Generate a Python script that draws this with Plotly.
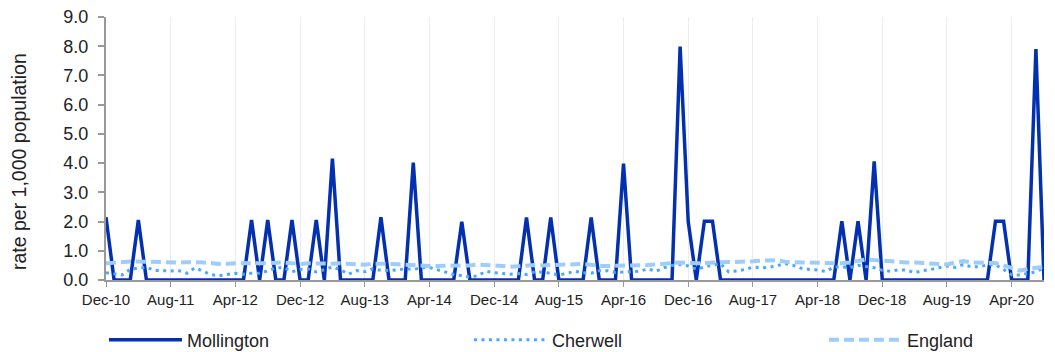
import pandas as pd
import plotly.graph_objects as go

months = pd.date_range("2010-12-01", "2020-08-01", freq="MS").strftime("%b-%y").tolist()

tick_labels = ["Dec-10", "Aug-11", "Apr-12", "Dec-12", "Aug-13", "Apr-14", "Dec-14", "Aug-15",
               "Apr-16", "Dec-16", "Aug-17", "Apr-18", "Dec-18", "Aug-19", "Apr-20"]

mollington = [
    2.15, 0, 0, 0, 2.05, 0, 0, 0, 0, 0, 0, 0, 0, 0, 0, 0, 0, 0, 2.05, 0,
    2.05, 0, 0, 2.05, 0, 0, 2.05, 0, 4.15, 0, 0, 0, 0, 0, 2.15, 0, 0, 0, 4.02, 0,
    0, 0, 0, 0, 1.99, 0, 0, 0, 0, 0, 0, 0, 2.14, 0, 0, 2.14, 0, 0, 0, 0,
    2.14, 0, 0, 0, 3.98, 0, 0, 0, 0, 0, 0, 7.99, 2.0, 0, 2.01, 2.01, 0, 0, 0, 0,
    0, 0, 0, 0, 0, 0, 0, 0, 0, 0, 0, 2.01, 0, 2.01, 0, 4.06, 0, 0, 0, 0,
    0, 0, 0, 0, 0, 0, 0, 0, 0, 0, 2.01, 2.01, 0, 0, 0, 7.9, 0,
]

cherwell = [
    0.25, 0.20, 0.17, 0.37, 0.40, 0.44, 0.33, 0.31, 0.31, 0.32, 0.23, 0.42, 0.30, 0.18, 0.15, 0.20, 0.23, 0.20, 0.23, 0.23,
    0.31, 0.42, 0.42, 0.28, 0.36, 0.38, 0.28, 0.35, 0.45, 0.35, 0.20, 0.32, 0.28, 0.38, 0.33, 0.32, 0.36, 0.38, 0.36, 0.42,
    0.43, 0.36, 0.27, 0.19, 0.15, 0.10, 0.15, 0.30, 0.25, 0.22, 0.20, 0.22, 0.19, 0.28, 0.27, 0.23, 0.17, 0.23, 0.30, 0.25,
    0.23, 0.32, 0.32, 0.26, 0.28, 0.28, 0.30, 0.38, 0.30, 0.42, 0.50, 0.53, 0.48, 0.37, 0.45, 0.51, 0.56, 0.28, 0.31, 0.36,
    0.44, 0.42, 0.43, 0.50, 0.56, 0.50, 0.40, 0.36, 0.34, 0.29, 0.44, 0.45, 0.42, 0.50, 0.47, 0.42, 0.33, 0.30, 0.35, 0.34,
    0.25, 0.32, 0.36, 0.42, 0.48, 0.43, 0.53, 0.45, 0.45, 0.52, 0.52, 0.36, 0.18, 0.17, 0.22, 0.28, 0.42,
]

england = [
    0.57, 0.60, 0.62, 0.63, 0.63, 0.62, 0.60, 0.60, 0.60, 0.60, 0.61, 0.62, 0.60, 0.58, 0.55, 0.56, 0.58, 0.58, 0.57, 0.56,
    0.57, 0.59, 0.60, 0.57, 0.55, 0.57, 0.56, 0.55, 0.56, 0.57, 0.55, 0.52, 0.52, 0.56, 0.57, 0.55, 0.54, 0.52, 0.50, 0.48,
    0.48, 0.48, 0.48, 0.48, 0.48, 0.50, 0.53, 0.52, 0.50, 0.48, 0.45, 0.48, 0.51, 0.51, 0.50, 0.51, 0.51, 0.50, 0.52, 0.55,
    0.52, 0.48, 0.48, 0.48, 0.48, 0.50, 0.50, 0.51, 0.53, 0.57, 0.58, 0.60, 0.58, 0.57, 0.58, 0.60, 0.61, 0.62, 0.62, 0.62,
    0.64, 0.66, 0.67, 0.68, 0.62, 0.60, 0.60, 0.60, 0.59, 0.57, 0.55, 0.57, 0.60, 0.65, 0.70, 0.68, 0.66, 0.62, 0.60, 0.60,
    0.60, 0.59, 0.57, 0.55, 0.53, 0.60, 0.65, 0.60, 0.59, 0.59, 0.58, 0.50, 0.40, 0.32, 0.38, 0.42, 0.45,
]

FONT = "Liberation Sans, Arial, sans-serif"
TXT = "#222222"

fig = go.Figure()
fig.add_trace(go.Scatter(x=months, y=mollington, mode="lines", name="Mollington", legend="legend",
                         line=dict(color="#0330b0", width=3.5)))
fig.add_trace(go.Scatter(x=months, y=cherwell, mode="lines", name="Cherwell", legend="legend2",
                         line=dict(color="#4aa8ff", width=3, dash="3px,4.5px")))
fig.add_trace(go.Scatter(x=months, y=england, mode="lines", name="England", legend="legend3",
                         line=dict(color="#9fcdfb", width=4, dash="10px,5px")))

def leg(x):
    return dict(orientation="h", xref="container", yref="container",
                x=x, xanchor="left", y=0.0341, yanchor="middle",
                itemwidth=73, bgcolor="rgba(0,0,0,0)",
                font=dict(size=18, family=FONT, color=TXT))

fig.update_layout(
    width=1055, height=352,
    margin=dict(l=106, r=11, t=17, b=72),
    paper_bgcolor="white", plot_bgcolor="white",
    font=dict(family=FONT, color=TXT, size=18),
    showlegend=True,
    legend=leg(0.0986),
    legend2=leg(0.4445),
    legend3=leg(0.781),
    xaxis=dict(
        type="category", range=[0, len(months) - 1], automargin=False,
        tickmode="array", tickvals=tick_labels, ticktext=tick_labels,
        showgrid=True, gridcolor="#ececec", gridwidth=1,
        showline=True, linecolor="#999999", linewidth=2,
        ticks="outside", ticklen=5, tickcolor="#999999", tickwidth=1,
        tickfont=dict(size=15, family=FONT, color=TXT),
        zeroline=False,
    ),
    yaxis=dict(
        range=[0, 9], dtick=1, tickformat=".1f", automargin=False,
        showgrid=False, zeroline=False,
        showline=True, linecolor="#999999", linewidth=2,
        ticks="outside", ticklen=6, tickcolor="#999999", tickwidth=2,
        ticklabelstandoff=6,
        tickfont=dict(size=18, family=FONT, color=TXT),
    ),
    annotations=[dict(text="rate per 1,000 population", textangle=-90,
                      xref="paper", yref="paper", x=-0.0927, y=0.4487,
                      xanchor="center", yanchor="middle", showarrow=False,
                      font=dict(size=19.5, family=FONT, color=TXT))],
)

fig.write_html("out.html", config={"displayModeBar": False},
               post_script="document.body.style.margin='0';document.body.style.overflow='hidden';")
